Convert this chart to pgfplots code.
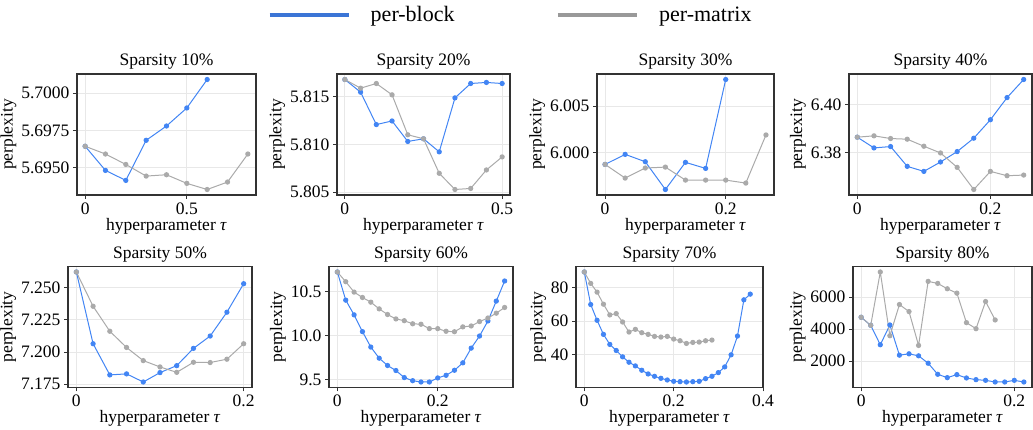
\documentclass[border=0pt]{standalone}
\usepackage{fontspec}
\setmainfont{Liberation Serif}
\usepackage{pgfplots}
\pgfplotsset{compat=1.18}
\definecolor{blk}{RGB}{66,133,244}
\definecolor{mtx}{RGB}{170,170,170}
\definecolor{legblk}{RGB}{59,117,214}
\definecolor{legmtx}{RGB}{153,153,153}
\definecolor{frm}{RGB}{51,51,51}
\definecolor{grd}{RGB}{232,232,232}
\newcommand\fs{\fontsize{17.5}{20}\selectfont}

\pgfplotsset{
  panel/.style={
    scale only axis, height=121pt, anchor=south west,
    enlargelimits=0.05,
    axis line style={draw=frm, line width=1.1pt},
    tick style={draw=frm, line width=0.9pt},
    tick align=outside, major tick length=4pt,
    xtick pos=left, ytick pos=left,
    grid=major, major grid style={draw=grd, line width=0.9pt},
    xlabel={hyperparameter \textit{τ}}, ylabel={perplexity},
    xlabel style={yshift=3pt}, ylabel style={yshift=-2pt},
    title style={yshift=-5pt},
    /pgf/number format/assume math mode=true,
    /pgf/number format/1000 sep={},
    xticklabel={\pgfmathprintnumber{\tick}},
    yticklabel={\pgfmathprintnumber{\tick}},
  },
  blkp/.style={blk, line width=1pt, mark=*, mark size=2.1pt, mark options={fill=blk, draw=blk}},
  mtxp/.style={mtx, line width=1pt, mark=*, mark size=2.1pt, mark options={fill=mtx, draw=mtx}},
}

\begin{document}
\begin{tikzpicture}[font=\fs]
\path[use as bounding box] (0pt,0pt) rectangle (1033pt,430pt);

% top row: sparsity 10% .. 40%
\begin{axis}[panel, at={(77pt,235pt)}, width=179pt,
  title={Sparsity 10\%}, xtick={0,0.5}, ytick={5.695,5.6975,5.7},
  yticklabel style={/pgf/number format/.cd, fixed, fixed zerofill, precision=4},
  legend style={draw=none, fill=none, at={(1.045,1.4876)}, anchor=west,
    legend columns=2, font=\fontsize{22}{24}\selectfont,
    /tikz/every odd column/.append style={column sep=18pt},
    /tikz/every even column/.append style={column sep=99pt}},
  legend image code/.code={\draw[#1, line width=4.5pt] (0pt,0pt) -- (79pt,0pt);}]
\addplot[blkp, forget plot] coordinates {(0,5.69644)(0.1,5.69482)(0.2,5.69415)(0.3,5.69684)(0.4,5.69780)(0.5,5.69901)(0.6,5.70092)};
\addplot[mtxp, forget plot] coordinates {(0,5.69644)(0.1,5.69592)(0.2,5.69522)(0.3,5.69444)(0.4,5.69453)(0.5,5.69395)(0.6,5.69354)(0.7,5.69404)(0.8,5.69592)};
\addlegendimage{legblk}\addlegendentry{per-block}
\addlegendimage{legmtx}\addlegendentry{per-matrix}
\end{axis}

\begin{axis}[panel, at={(337pt,235pt)}, width=173pt,
  title={Sparsity 20\%}, xtick={0,0.5}, ytick={5.805,5.81,5.815},
  yticklabel style={/pgf/number format/.cd, fixed, fixed zerofill, precision=3}]
\addplot[blkp] coordinates {(0,5.81682)(0.05,5.81549)(0.1,5.81209)(0.15,5.81247)(0.2,5.81032)(0.25,5.8106)(0.3,5.80923)(0.35,5.81489)(0.4,5.8164)(0.45,5.81651)(0.5,5.8164)};
\addplot[mtxp] coordinates {(0,5.81682)(0.05,5.81591)(0.1,5.8164)(0.15,5.81521)(0.2,5.81102)(0.25,5.8106)(0.3,5.80698)(0.35,5.80528)(0.4,5.80539)(0.45,5.80733)(0.5,5.8087)};
\end{axis}

\begin{axis}[panel, at={(597pt,235pt)}, width=177pt,
  title={Sparsity 30\%}, xtick={0,0.2}, ytick={6.0,6.005},
  yticklabel style={/pgf/number format/.cd, fixed, fixed zerofill, precision=3}]
\addplot[blkp] coordinates {(0,5.99874)(0.0333,5.99982)(0.0667,5.99903)(0.1,5.99604)(0.1333,5.99896)(0.1667,5.99831)(0.2,6.00788)};
\addplot[mtxp] coordinates {(0,5.99874)(0.0333,5.99727)(0.0667,5.99835)(0.1,5.99845)(0.1333,5.99705)(0.1667,5.99705)(0.2,5.99705)(0.2333,5.99673)(0.2667,6.00191)};
\end{axis}

\begin{axis}[panel, at={(849pt,235pt)}, width=183pt,
  title={Sparsity 40\%}, xtick={0,0.2}, ytick={6.38,6.40},
  yticklabel style={/pgf/number format/.cd, fixed, fixed zerofill, precision=2}]
\addplot[blkp] coordinates {(0,6.38653)(0.025,6.38208)(0.05,6.38264)(0.075,6.37444)(0.1,6.37236)(0.125,6.37625)(0.15,6.38056)(0.175,6.38611)(0.2,6.39375)(0.225,6.40292)(0.25,6.41042)};
\addplot[mtxp] coordinates {(0,6.38653)(0.025,6.38708)(0.05,6.38597)(0.075,6.38569)(0.1,6.38278)(0.125,6.38)(0.15,6.37403)(0.175,6.36486)(0.2,6.37236)(0.225,6.37056)(0.25,6.37083)};
\end{axis}

% bottom row: sparsity 50% .. 80%
\begin{axis}[panel, at={(68pt,42.5pt)}, width=184pt,
  title={Sparsity 50\%}, xtick={0,0.2}, ytick={7.175,7.2,7.225,7.25},
  yticklabel style={/pgf/number format/.cd, fixed, fixed zerofill, precision=3}]
\addplot[blkp] coordinates {(0,7.2622)(0.02,7.2065)(0.04,7.1823)(0.06,7.1831)(0.08,7.1768)(0.1,7.1841)(0.12,7.1895)(0.14,7.2029)(0.16,7.2125)(0.18,7.231)(0.2,7.2531)};
\addplot[mtxp] coordinates {(0,7.2622)(0.02,7.2356)(0.04,7.2162)(0.06,7.2036)(0.08,7.1934)(0.1,7.1885)(0.12,7.1843)(0.14,7.1921)(0.16,7.1919)(0.18,7.1945)(0.2,7.2065)};
\end{axis}

\begin{axis}[panel, at={(329pt,42.5pt)}, width=184pt,
  title={Sparsity 60\%}, xtick={0,0.2}, ytick={9.5,10,10.5},
  yticklabel style={/pgf/number format/.cd, fixed, fixed zerofill, precision=1}]
\addplot[blkp] coordinates {(0,10.722)(0.01667,10.403)(0.03333,10.236)(0.05,10.046)(0.06667,9.871)(0.08333,9.745)(0.1,9.662)(0.11667,9.605)(0.13333,9.525)(0.15,9.490)(0.16667,9.475)(0.18333,9.475)(0.2,9.521)(0.21667,9.551)(0.23333,9.608)(0.25,9.692)(0.26667,9.859)(0.28333,9.996)(0.3,10.167)(0.31667,10.392)(0.33333,10.620)};
\addplot[mtxp] coordinates {(0,10.722)(0.01667,10.612)(0.03333,10.494)(0.05,10.433)(0.06667,10.380)(0.08333,10.304)(0.1,10.24)(0.11667,10.19)(0.13333,10.17)(0.15,10.135)(0.16667,10.13)(0.18333,10.08)(0.2,10.08)(0.21667,10.05)(0.23333,10.045)(0.25,10.10)(0.26667,10.11)(0.28333,10.16)(0.3,10.20)(0.31667,10.255)(0.33333,10.32)};
\end{axis}

\begin{axis}[panel, at={(576pt,42.5pt)}, width=187pt,
  title={Sparsity 70\%}, xtick={0,0.2,0.4}, ytick={40,60,80},
  enlarge x limits=false, xmin=-0.0186, xmax=0.4]
\addplot[blkp] coordinates {(0,89.2)(0.01429,69.8)(0.02857,60.4)(0.04286,52)(0.05714,46)(0.07143,42.4)(0.08571,38.6)(0.1,35.4)(0.11429,33.2)(0.12857,30.6)(0.14286,28.4)(0.15714,27)(0.17143,25.8)(0.18571,24.8)(0.2,24)(0.21429,23.8)(0.22857,23.6)(0.24286,23.8)(0.25714,24)(0.27143,25.6)(0.28571,27)(0.3,29.2)(0.31429,32.6)(0.32857,39.8)(0.34286,51)(0.35714,72.6)(0.37143,76)};
\addplot[mtxp] coordinates {(0,89.2)(0.01429,82.4)(0.02857,77.2)(0.04286,70)(0.05714,63.6)(0.07143,64.4)(0.08571,59.4)(0.1,53.4)(0.11429,55)(0.12857,53)(0.14286,52)(0.15714,50.8)(0.17143,50.4)(0.18571,50.8)(0.2,49.2)(0.21429,48.2)(0.22857,46.6)(0.24286,47.2)(0.25714,47.4)(0.27143,48.2)(0.28571,48.6)};
\end{axis}

\begin{axis}[panel, at={(853pt,42.5pt)}, width=179pt,
  title={Sparsity 80\%}, xtick={0,0.2}, ytick={2000,4000,6000}]
\addplot[blkp] coordinates {(0,4743)(0.0125,4241)(0.025,3026)(0.0375,4262)(0.05,2377)(0.0625,2461)(0.075,2335)(0.0875,1874)(0.1,1183)(0.1125,974)(0.125,1162)(0.1375,953)(0.15,848)(0.1625,806)(0.175,702)(0.1875,702)(0.2,806)(0.2125,702)};
\addplot[mtxp] coordinates {(0,4743)(0.0125,4241)(0.025,7570)(0.0375,3591)(0.05,5539)(0.0625,5099)(0.075,2984)(0.0875,6984)(0.1,6858)(0.1125,6523)(0.125,6251)(0.1375,4408)(0.15,4031)(0.1625,5727)(0.175,4576)};
\end{axis}
\end{tikzpicture}
\end{document}
